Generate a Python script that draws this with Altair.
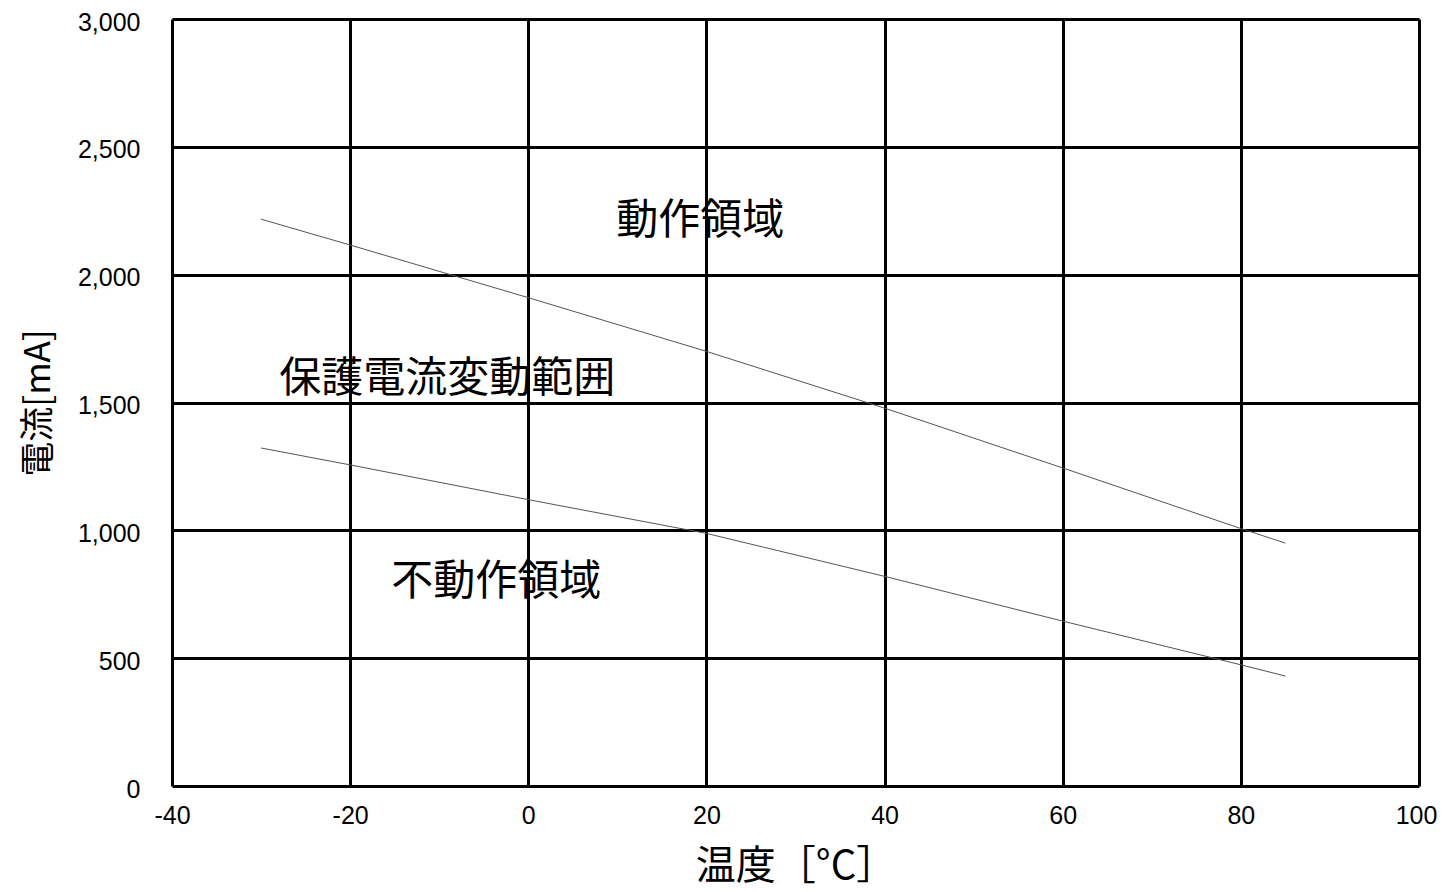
import altair as alt
import pandas as pd

# Temperature points (°C)
temps = [-30, -20, 0, 20, 40, 60, 80, 85]
# Upper boundary (operating threshold) in mA
upper = [2217, 2116, 1910, 1700, 1478, 1244, 1007, 950]
# Lower boundary (non-operating threshold) in mA
lower = [1322, 1256, 1120, 988, 820, 645, 474, 430]

x_ticks = [-40, -20, 0, 20, 40, 60, 80, 100]
y_ticks = [0, 500, 1000, 1500, 2000, 2500, 3000]

label_texts = ["動作領域", "保護電流変動範囲", "不動作領域"]
label_x = [19.3, -9.1, -3.6]
label_y = [2210, 1592, 798]

lines_df = pd.DataFrame(
    {
        "temp": temps * 2,
        "current": upper + lower,
        "series": ["upper"] * len(temps) + ["lower"] * len(temps),
    }
)
labels_df = pd.DataFrame({"text": label_texts, "temp": label_x, "current": label_y})

JP = "Noto Sans CJK JP"
LAT = "Liberation Sans"

x_scale = alt.Scale(domain=[-40, 100], nice=False, zero=False)
y_scale = alt.Scale(domain=[0, 3000], nice=False)

x_axis = alt.Axis(
    title="温度［°C］",
    values=x_ticks,
    labelExpr="'' + datum.value",
    grid=True,
    gridColor="black",
    gridWidth=3,
    gridOpacity=1,
    domain=False,
    ticks=False,
    tickSize=0,
    labelFont=LAT,
    labelFontSize=25,
    labelColor="black",
    labelPadding=17,
    labelFlush=False,
    labelOffset=alt.condition("datum.value == 100", alt.value(-3), alt.value(0)),
    titleFont=JP,
    titleFontSize=40,
    titleFontWeight="normal",
    titleColor="black",
    titleBaseline="alphabetic",
    titleY=92,
)
y_axis = alt.Axis(
    title="電流[mA]",
    values=y_ticks,
    format=",d",
    grid=True,
    gridColor="black",
    gridWidth=3,
    gridOpacity=1,
    domain=False,
    ticks=False,
    tickSize=0,
    labelFont=LAT,
    labelFontSize=25,
    labelColor="black",
    labelPadding=32,
    labelOffset=3,
    labelFlush=False,
    titleFont=JP,
    titleFontSize=35,
    titleFontWeight="normal",
    titleColor="black",
    titleBaseline="alphabetic",
    titleX=-123,
)

lines = (
    alt.Chart(lines_df)
    .mark_line(color="#555555", strokeWidth=1)
    .encode(
        x=alt.X("temp:Q", scale=x_scale, axis=x_axis),
        y=alt.Y("current:Q", scale=y_scale, axis=y_axis),
        detail="series:N",
    )
)

texts = (
    alt.Chart(labels_df)
    .mark_text(font=JP, fontSize=42, color="black", align="center", baseline="middle")
    .encode(
        x=alt.X("temp:Q", scale=x_scale),
        y=alt.Y("current:Q", scale=y_scale),
        text="text:N",
    )
)

chart = (
    alt.layer(lines, texts)
    .properties(
        width=1247,
        height=767,
        autosize=alt.AutoSizeParams(type="none"),
        padding={"left": 164, "top": 11, "right": 18, "bottom": 98},
        background="white",
    )
    .configure_view(strokeWidth=0)
)

chart.save("out.html", embed_options={"renderer": "svg", "actions": False})
